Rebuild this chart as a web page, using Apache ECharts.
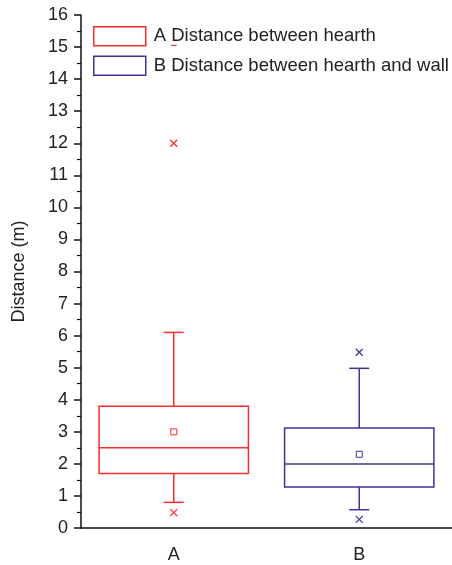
<!DOCTYPE html>
<html>
<head>
<meta charset="utf-8">
<script src="https://cdn.jsdelivr.net/npm/echarts@6/dist/echarts.min.js"></script>
<style>html,body{margin:0;padding:0;background:#fff}#c{width:452px;height:565px}</style>
</head>
<body>
<div id="c"></div>
<script>
const categories = ['A', 'B'];
const seriesNames = ['A Distance between hearth', 'B Distance between hearth and wall'];
const whiskerLow = [0.8, 0.57];
const q1 = [1.7, 1.28];
const median = [2.5, 2.0];
const q3 = [3.8, 3.12];
const whiskerHigh = [6.1, 4.98];
const means = [3.0, 2.3];
const outliersA = [0.48, 12.0];
const outliersB = [0.27, 5.48];
const extremeA = [15.05];
const extremeB = [];
const colors = ['#ff2b2b', '#3f3399'];

const chart = echarts.init(document.getElementById('c'));
const font = 'Liberation Sans, Arial, sans-serif';

function boxRender(params, api) {
  const x = api.value(0);
  const c = api.style().stroke;
  const bw = api.size([1, 0])[0] * 0.805;
  const cap = 20;
  const pLow = api.coord([x, api.value(1)]);
  const pQ1 = api.coord([x, api.value(2)]);
  const pMed = api.coord([x, api.value(3)]);
  const pQ3 = api.coord([x, api.value(4)]);
  const pHigh = api.coord([x, api.value(5)]);
  const pMean = api.coord([x, api.value(6)]);
  const cx = pMed[0];
  const st = {stroke: c, lineWidth: 1.5, fill: null};
  return {
    type: 'group',
    children: [
      {type: 'rect', shape: {x: cx - bw / 2, y: pQ3[1], width: bw, height: pQ1[1] - pQ3[1]}, style: {stroke: c, lineWidth: 1.5, fill: 'none'}},
      {type: 'line', shape: {x1: cx - bw / 2, y1: pMed[1], x2: cx + bw / 2, y2: pMed[1]}, style: st},
      {type: 'line', shape: {x1: cx, y1: pQ3[1], x2: cx, y2: pHigh[1]}, style: st},
      {type: 'line', shape: {x1: cx, y1: pQ1[1], x2: cx, y2: pLow[1]}, style: st},
      {type: 'line', shape: {x1: cx - cap / 2, y1: pHigh[1], x2: cx + cap / 2, y2: pHigh[1]}, style: st},
      {type: 'line', shape: {x1: cx - cap / 2, y1: pLow[1], x2: cx + cap / 2, y2: pLow[1]}, style: st},
      {type: 'rect', shape: {x: pMean[0] - 3, y: pMean[1] - 3, width: 6, height: 6}, style: {stroke: c, lineWidth: 1, fill: 'none'}}
    ]
  };
}

function crossRender(params, api) {
  const p = api.coord([api.value(0), api.value(1)]);
  const c = api.style().stroke;
  const s = 3.5;
  return {
    type: 'group',
    children: [
      {type: 'line', shape: {x1: p[0] - s, y1: p[1] - s, x2: p[0] + s, y2: p[1] + s}, style: {stroke: c, lineWidth: 1.2}},
      {type: 'line', shape: {x1: p[0] - s, y1: p[1] + s, x2: p[0] + s, y2: p[1] - s}, style: {stroke: c, lineWidth: 1.2}}
    ]
  };
}

function dashRender(params, api) {
  const p = api.coord([api.value(0), api.value(1)]);
  const c = api.style().stroke;
  return {type: 'line', shape: {x1: p[0] - 3, y1: p[1], x2: p[0] + 3, y2: p[1]}, style: {stroke: c, lineWidth: 1}};
}

const outliers = [outliersA, outliersB];
const extremes = [extremeA, extremeB];
const series = [];
categories.forEach((cat, i) => {
  series.push({
    name: seriesNames[i], type: 'custom', renderItem: boxRender,
    itemStyle: {color: colors[i], borderColor: colors[i]},
    encode: {x: 0, y: [1, 2, 3, 4, 5, 6]},
    data: [[i, whiskerLow[i], q1[i], median[i], q3[i], whiskerHigh[i], means[i]]],
    z: 2
  });
  series.push({
    name: seriesNames[i], type: 'custom', renderItem: crossRender,
    itemStyle: {color: colors[i], borderColor: colors[i]},
    encode: {x: 0, y: 1},
    data: outliers[i].map(v => [i, v]), z: 3
  });
  series.push({
    name: seriesNames[i], type: 'custom', renderItem: dashRender,
    itemStyle: {color: colors[i], borderColor: colors[i]},
    encode: {x: 0, y: 1},
    data: extremes[i].map(v => [i, v]), z: 3
  });
});

chart.setOption({
  animation: false,
  backgroundColor: '#fff',
  grid: {left: 81, right: 0, top: 15, bottom: 37},
  legend: {
    orient: 'vertical', left: 93, top: 26, padding: 0, itemWidth: 52, itemHeight: 19, itemGap: 9,
    selectedMode: false,
    textStyle: {fontFamily: font, fontSize: 18.5, color: '#222', padding: [0, 0, 0, 3]},
    data: seriesNames.map((n, i) => ({name: n, icon: 'rect', itemStyle: {color: '#fff', borderColor: colors[i], borderWidth: 1.5}}))
  },
  xAxis: {
    type: 'category', data: categories,
    axisLine: {lineStyle: {color: '#111', width: 1.5}},
    axisTick: {alignWithLabel: true, length: 8, lineStyle: {color: '#111', width: 1.5}},
    axisLabel: {fontFamily: font, fontSize: 18, color: '#222', margin: 18},
    splitLine: {show: false}
  },
  yAxis: {
    type: 'value', min: 0, max: 16, interval: 1,
    name: 'Distance (m)', nameLocation: 'middle', nameRotate: 90, nameGap: 53,
    nameTextStyle: {fontFamily: font, fontSize: 18, color: '#222'},
    axisLine: {show: true, lineStyle: {color: '#111', width: 1.5}},
    axisTick: {show: true, length: 7, lineStyle: {color: '#111', width: 1.5}},
    minorTick: {show: true, splitNumber: 2, length: 4, lineStyle: {color: '#111', width: 1.2}},
    axisLabel: {fontFamily: font, fontSize: 18, color: '#222', margin: 13},
    splitLine: {show: false}
  },
  series: series
});
</script>
</body>
</html>
